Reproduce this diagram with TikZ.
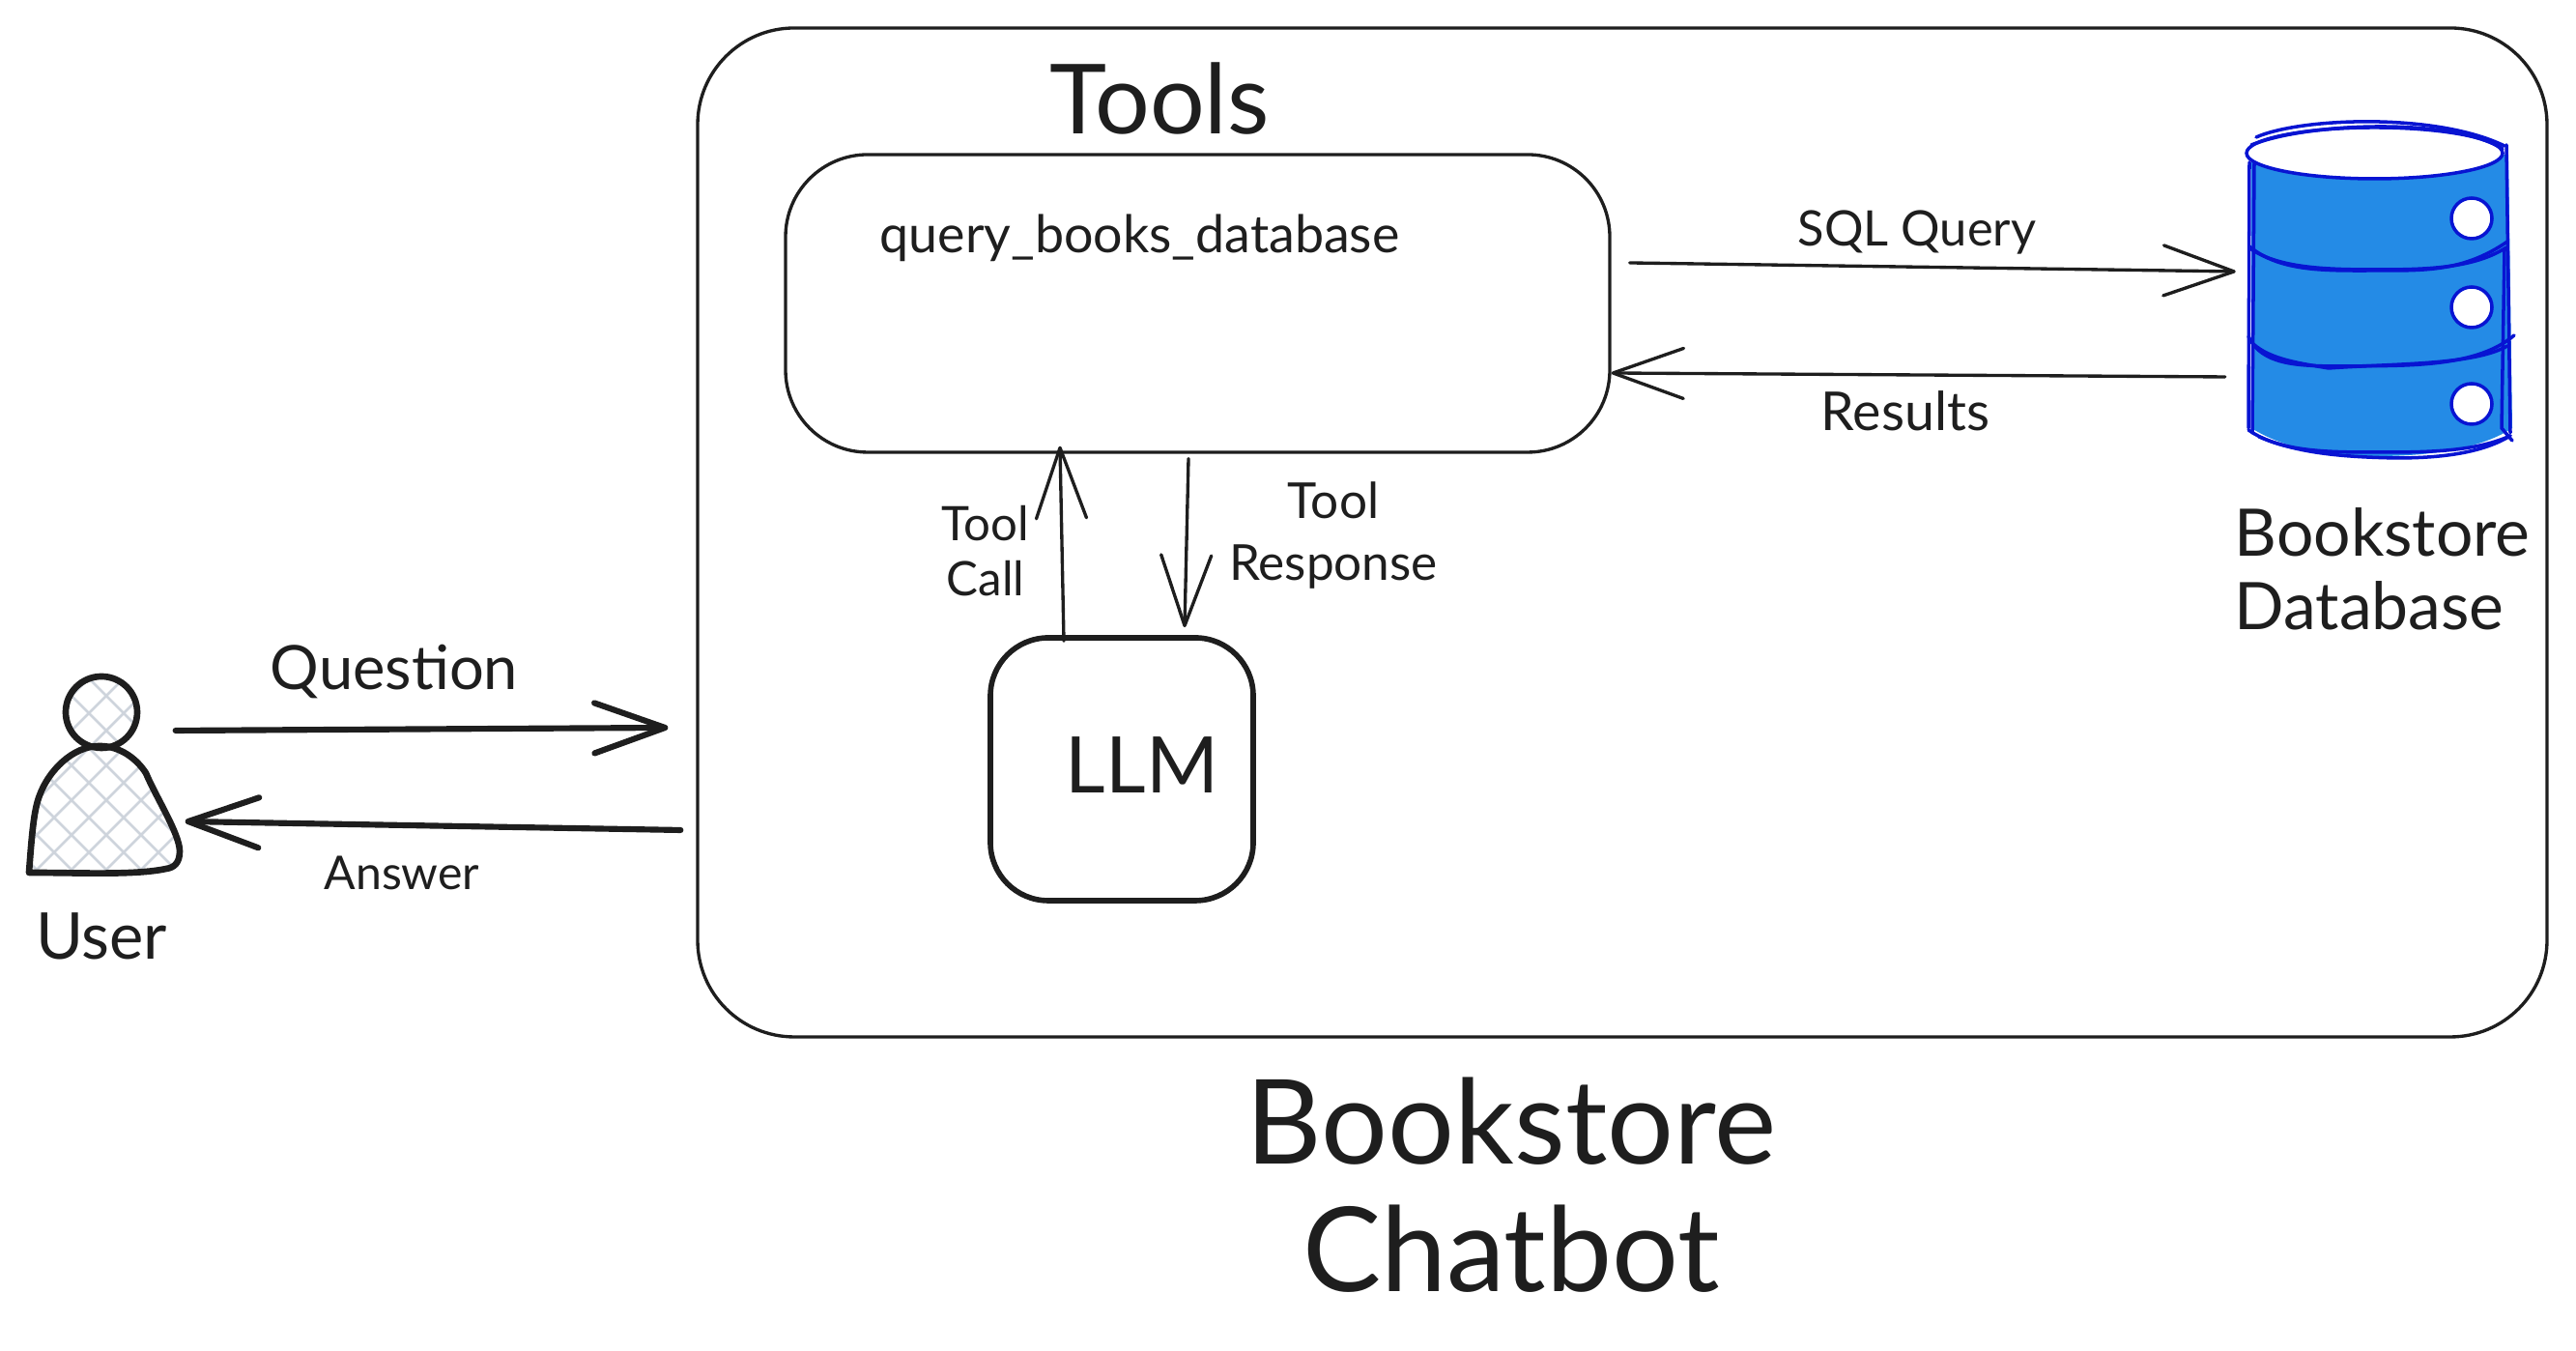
\documentclass[tikz,border=0pt]{standalone}
\usepackage{fontspec}
\setmainfont{Lato}
\usetikzlibrary{arrows.meta,positioning}
\definecolor{ink}{RGB}{30,30,30}
\definecolor{dbfill}{RGB}{36,139,230}
\definecolor{dbline}{RGB}{8,20,210}
\definecolor{hatch}{RGB}{206,212,220}
\tikzset{
  panel/.style={draw=ink,line width=0.95pt,inner sep=0pt},
  flow/.style={draw=ink,line width=0.95pt,line cap=round,-{Straight Barb[length=0.73cm,width=0.52cm,round]}},
  boldflow/.style={flow,line width=1.75pt},
  caption/.style={text=ink,inner sep=0pt,align=center},
  dbstroke/.style={draw=dbline,line width=1pt,line cap=round},
}
\begin{document}
\begin{tikzpicture}
  \useasboundingbox (0,0) rectangle (26.66,13.98);
  \node[panel,rounded corners=1cm,minimum width=19.14cm,minimum height=10.44cm] (chatbot) at (16.79,8.47) {};
  \node[panel,rounded corners=0.85cm,minimum width=8.53cm,minimum height=3.08cm] (tools) at (12.395,10.84) {};
  \node[panel,line width=1.6pt,rounded corners=0.6cm,minimum width=2.72cm,minimum height=2.72cm] (llm) at (11.61,6.02) {};
  \node[minimum width=1.56cm,minimum height=2.01cm,inner sep=0pt] (user) at (1.08,5.955) {};
  \node[minimum width=2.67cm,minimum height=3.4cm,inner sep=0pt] (db) at (24.62,10.98) {};

  \begin{scope}
    \clip (0.30,4.95) .. controls (0.33,5.35) and (0.35,5.60) .. (0.41,5.75) .. controls (0.50,6.00) and (0.75,6.26) .. (1.03,6.26) .. controls (1.25,6.26) and (1.42,6.12) .. (1.51,5.98) .. controls (1.62,5.72) and (1.86,5.35) .. (1.86,5.17) .. controls (1.86,5.05) and (1.80,5.00) .. (1.72,4.99) .. controls (1.40,4.92) and (0.80,4.95) .. cycle
      (1.05,6.61) circle (0.37);
    \foreach \hx in {-1.6,-1.24,...,3.2} {
      \draw[hatch,line width=0.75pt] (\hx,4.8) -- ++(2.2,2.2);
      \draw[hatch,line width=0.75pt] (\hx,4.8) -- ++(-2.2,2.2);
    }
  \end{scope}
  \draw[ink,line width=1.9pt,line join=round] (0.30,4.95) .. controls (0.33,5.35) and (0.35,5.60) .. (0.41,5.75) .. controls (0.50,6.00) and (0.75,6.26) .. (1.03,6.26) .. controls (1.25,6.26) and (1.42,6.12) .. (1.51,5.98) .. controls (1.62,5.72) and (1.86,5.35) .. (1.86,5.17) .. controls (1.86,5.05) and (1.80,5.00) .. (1.72,4.99) .. controls (1.40,4.92) and (0.80,4.95) .. cycle;
  \draw[ink,line width=1.9pt] (1.05,6.61) circle (0.37);

  \fill[dbfill] (23.30,12.38) -- (23.30,9.55) .. controls (23.7,9.3) and (24.2,9.26) .. (24.6,9.26) .. controls (25.2,9.26) and (25.7,9.35) .. (26.00,9.55) -- (25.96,12.38) -- cycle;
  \draw[dbstroke,fill=white] (24.575,12.395) ellipse (1.325 and 0.265);
  \draw[dbstroke] (23.35,12.56) .. controls (23.8,12.76) and (25.2,12.82) .. (25.92,12.47);
  \draw[dbstroke] (23.30,12.48) .. controls (23.9,12.72) and (25.4,12.76) .. (25.90,12.44);
  \draw[dbstroke] (23.28,12.30) -- (23.27,9.55);
  \draw[dbstroke] (23.33,12.30) -- (23.31,9.50);
  \draw[dbstroke] (25.94,12.48) -- (25.98,9.50);
  \draw[dbstroke] (25.92,11.40) -- (25.89,9.55) -- (26.00,9.42);
  \draw[dbstroke] (23.28,11.43) .. controls (23.6,11.16) and (24.1,11.18) .. (24.6,11.18) .. controls (25.1,11.18) and (25.5,11.17) .. (25.95,11.48);
  \draw[dbstroke] (23.30,11.40) .. controls (23.6,11.20) and (24.1,11.19) .. (24.6,11.19) .. controls (25.1,11.19) and (25.6,11.20) .. (25.94,11.42);
  \draw[dbstroke] (23.27,10.50) .. controls (23.4,10.20) and (23.8,10.20) .. (24.1,10.19) .. controls (24.8,10.20) and (25.6,10.15) .. (26.02,10.51);
  \draw[dbstroke] (23.32,10.42) .. controls (23.5,10.26) and (23.8,10.22) .. (24.1,10.17) .. controls (24.8,10.22) and (25.6,10.20) .. (25.95,10.40);
  \draw[dbstroke] (23.27,9.53) .. controls (23.6,9.30) and (24.1,9.30) .. (24.6,9.30) .. controls (25.1,9.30) and (25.6,9.30) .. (25.98,9.47);
  \draw[dbstroke] (23.38,9.46) .. controls (23.8,9.28) and (24.3,9.25) .. (24.8,9.24) .. controls (25.3,9.24) and (25.7,9.30) .. (25.98,9.47);
  \foreach \hy in {11.72,10.80,9.80} {
    \draw[dbstroke,fill=white] (25.58,\hy) circle (0.21);
  }

  \draw[boldflow] ([shift={(-0.05,0.465)}]user.east) -- ([shift={(-0.29,-2.02)}]chatbot.west);
  \draw[boldflow] ([shift={(-0.16,-3.08)}]chatbot.west) -- ([shift={(0.05,-0.475)}]user.east);
  \draw[flow] ([shift={(0.19,0.42)}]tools.east) -- ([shift={(-0.14,0.19)}]db.west);
  \draw[flow] ([shift={(-0.25,-0.90)}]db.west) -- ([shift={(0,-0.72)}]tools.east);
  \draw[flow] ([shift={(-0.60,-0.06)}]llm.north) -- ([shift={(-1.425,0.08)}]tools.south);
  \draw[flow] ([shift={(-0.095,-0.05)}]tools.south) -- ([shift={(0.65,0.08)}]llm.north);

  \node[caption,font=\fontsize{28.5}{32}\selectfont] (toolstitle) at (12.0,12.96) {Tools};
  \node[caption,font=\fontsize{15.3}{18}\selectfont,anchor=west] (toolname) at (9.10,11.52) {query\_books\_database};
  \node[caption,font=\fontsize{23}{27}\selectfont] (llmtext) at (11.82,6.06) {LLM};
  \node[caption,font=\fontsize{14.4}{17}\selectfont] (sqltext) at (19.84,11.57) {SQL Query};
  \node[caption,font=\fontsize{15.8}{18}\selectfont] (resultstext) at (19.72,9.73) {Results};
  \node[caption,font=\fontsize{14}{16}\selectfont] (calltext) at (10.20,8.28) {Tool\\Call};
  \node[caption,font=\fontsize{14.6}{18}\selectfont] (responsetext) at (13.80,8.44) {Tool\\Response};
  \node[caption,font=\fontsize{18}{21}\selectfont] (questiontext) at (4.08,7.03) {Question};
  \node[caption,font=\fontsize{13.7}{16}\selectfont] (answertext) at (4.16,4.95) {Answer};
  \node[caption,font=\fontsize{19}{22}\selectfont] (usertext) at (1.05,4.29) {User};
  \node[caption,font=\fontsize{19.3}{21.5}\selectfont,align=left,anchor=west] (dbtext) at (23.12,8.09) {Bookstore\\Database};
  \node[caption,font=\fontsize{34.6}{37.6}\selectfont] (charttitle) at (15.64,1.72) {Bookstore\\Chatbot};
\end{tikzpicture}
\end{document}
